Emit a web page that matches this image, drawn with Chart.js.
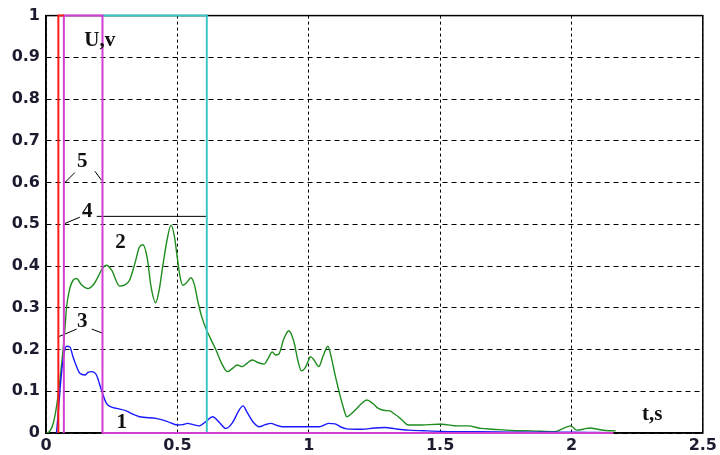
<!DOCTYPE html>
<html>
<head>
<meta charset="utf-8">
<script src="https://cdn.jsdelivr.net/npm/chart.js@4/dist/chart.umd.min.js"></script>
<style>
  html, body { margin: 0; padding: 0; background: #fff; }
  #wrap { width: 720px; height: 455px; }
</style>
</head>
<body>
<div id="wrap"><canvas id="myChart"></canvas></div>
<script>
// Curve 2 (green), U over t
const greenT = [0, 0.003, 0.015, 0.028, 0.04, 0.053, 0.066, 0.072, 0.078, 0.09, 0.103, 0.116, 0.135, 0.16, 0.18, 0.198, 0.215, 0.23, 0.25, 0.28, 0.3, 0.318, 0.34, 0.355, 0.369, 0.385, 0.4, 0.417, 0.43, 0.444, 0.46, 0.476, 0.489, 0.501, 0.51, 0.52, 0.535, 0.552, 0.565, 0.577, 0.592, 0.609, 0.627, 0.647, 0.67, 0.69, 0.71, 0.728, 0.747, 0.765, 0.785, 0.81, 0.83, 0.845, 0.861, 0.874, 0.886, 0.905, 0.924, 0.935, 0.945, 0.96, 0.972, 0.985, 1.0, 1.006, 1.02, 1.038, 1.055, 1.073, 1.088, 1.1, 1.114, 1.13, 1.145, 1.16, 1.177, 1.2, 1.221, 1.245, 1.265, 1.29, 1.309, 1.325, 1.341, 1.36, 1.379, 1.43, 1.492, 1.505, 1.568, 1.606, 1.655, 1.7, 1.77, 1.85, 1.934, 1.965, 1.997, 2.02, 2.045, 2.07, 2.1, 2.13, 2.168];
const greenU = [0, 0, 0.005, 0.024, 0.063, 0.127, 0.206, 0.25, 0.3, 0.345, 0.366, 0.37, 0.355, 0.346, 0.355, 0.374, 0.395, 0.402, 0.39, 0.352, 0.355, 0.366, 0.41, 0.445, 0.451, 0.42, 0.35, 0.312, 0.34, 0.398, 0.46, 0.498, 0.47, 0.414, 0.375, 0.354, 0.36, 0.372, 0.355, 0.318, 0.28, 0.25, 0.225, 0.199, 0.165, 0.147, 0.155, 0.163, 0.159, 0.167, 0.175, 0.168, 0.165, 0.178, 0.194, 0.187, 0.189, 0.225, 0.245, 0.235, 0.215, 0.17, 0.149, 0.155, 0.175, 0.183, 0.175, 0.159, 0.185, 0.208, 0.175, 0.14, 0.103, 0.065, 0.039, 0.045, 0.055, 0.07, 0.079, 0.07, 0.059, 0.054, 0.053, 0.046, 0.039, 0.028, 0.019, 0.019, 0.021, 0.021, 0.017, 0.017, 0.011, 0.009, 0.006, 0.005, 0.003, 0.01, 0.017, 0.007, 0.009, 0.012, 0.009, 0.006, 0.005];

// Curve 1 (blue)
const blueT = [0.04, 0.048, 0.056, 0.066, 0.078, 0.091, 0.103, 0.116, 0.129, 0.148, 0.16, 0.173, 0.184, 0.192, 0.211, 0.23, 0.25, 0.268, 0.306, 0.33, 0.356, 0.419, 0.46, 0.501, 0.52, 0.539, 0.56, 0.583, 0.61, 0.634, 0.66, 0.684, 0.71, 0.735, 0.75, 0.765, 0.79, 0.811, 0.835, 0.855, 0.88, 0.899, 0.95, 1.0, 1.04, 1.076, 1.1, 1.12, 1.145, 1.202, 1.25, 1.29, 1.33, 1.379, 1.45, 1.568, 1.65, 1.8, 2.0, 2.15];
const blueU = [0, 0.06, 0.123, 0.18, 0.208, 0.206, 0.182, 0.16, 0.143, 0.139, 0.145, 0.147, 0.145, 0.139, 0.103, 0.071, 0.062, 0.059, 0.053, 0.045, 0.039, 0.035, 0.028, 0.019, 0.02, 0.023, 0.02, 0.017, 0.028, 0.039, 0.025, 0.011, 0.025, 0.055, 0.065, 0.05, 0.025, 0.015, 0.02, 0.023, 0.018, 0.015, 0.015, 0.015, 0.015, 0.023, 0.022, 0.015, 0.01, 0.009, 0.012, 0.013, 0.01, 0.007, 0.005, 0.003, 0.003, 0.002, 0.002, 0.001];

// Time windows (vertical marker lines)
const redT = [0.047, 0.047, 0.068];
const redU = [0, 1, 1];
const magentaT = [0.068, 0.068, 0.215, 0.215, 2.16];
const magentaU = [0, 1, 1, 0, 0];
const cyanT = [0.215, 0.612, 0.612];
const cyanU = [1, 1, 0];

// Leader lines for the numbered labels
const leaderLines = [
  { t: [0.072, 0.110], u: [0.600, 0.624] },
  { t: [0.186, 0.212], u: [0.627, 0.605] },
  { t: [0.072, 0.129], u: [0.502, 0.517] },
  { t: [0.193, 0.614], u: [0.519, 0.519] },
  { t: [0.045, 0.117], u: [0.230, 0.249] },
  { t: [0.174, 0.216], u: [0.249, 0.239] },
];

// Text labels placed at data coordinates
const labelText = ["U,v", "5", "4", "3", "2", "1", "t,s"];
const labelT = [0.2045, 0.138, 0.157, 0.138, 0.284, 0.288, 2.307];
const labelU = [0.94, 0.65, 0.531, 0.267, 0.456, 0.024, 0.045];

const xTicks = [0, 0.5, 1, 1.5, 2, 2.5];
const yTicks = [0, 0.1, 0.2, 0.3, 0.4, 0.5, 0.6, 0.7, 0.8, 0.9, 1];

function toPoints(ts, us) {
  return ts.map((t, i) => ({ x: t, y: us[i] }));
}

const datasets = [
  { data: toPoints(redT, redU), borderColor: "#ff1a1a", borderWidth: 2, clip: 4 },
  { data: toPoints(magentaT, magentaU), borderColor: "#d23ed2", borderWidth: 2, clip: 4 },
  { data: toPoints(cyanT, cyanU), borderColor: "#3cc8c8", borderWidth: 2, clip: 4 },
  { data: toPoints(blueT, blueU), borderColor: "#1a1aff", borderWidth: 1.4, cubicInterpolationMode: "monotone" },
  { data: toPoints(greenT, greenU), borderColor: "#1e8c1e", borderWidth: 1.4, cubicInterpolationMode: "monotone" },
];
leaderLines.forEach((l) => {
  datasets.push({ data: toPoints(l.t, l.u), borderColor: "#000", borderWidth: 1 });
});

// Frame around the plot area (drawn below the curves)
const framePlugin = {
  id: "frame",
  beforeDatasetsDraw(chart) {
    const { ctx, chartArea: a } = chart;
    ctx.save();
    ctx.strokeStyle = "#000";
    ctx.lineWidth = 1.5;
    ctx.strokeRect(a.left, a.top, a.right - a.left, a.bottom - a.top);
    ctx.restore();
  },
};

// Curve numbers and axis names
const labelPlugin = {
  id: "labels",
  afterDatasetsDraw(chart) {
    const { ctx } = chart;
    const xs = chart.scales.x;
    const ys = chart.scales.y;
    ctx.save();
    ctx.fillStyle = "#111";
    ctx.font = "bold 21px 'Liberation Serif'";
    ctx.textAlign = "center";
    ctx.textBaseline = "middle";
    labelText.forEach((txt, i) => {
      ctx.fillText(txt, xs.getPixelForValue(labelT[i]), ys.getPixelForValue(labelU[i]));
    });
    ctx.restore();
  },
};

const ctx = document.getElementById("myChart").getContext("2d");
new Chart(ctx, {
  type: "line",
  data: { datasets: datasets },
  options: {
    responsive: true,
    maintainAspectRatio: false,
    animation: false,
    layout: { padding: { top: 15, right: 14, left: 0, bottom: 0 } },
    elements: { point: { radius: 0 }, line: { tension: 0 } },
    plugins: { legend: { display: false }, tooltip: { enabled: false } },
    scales: {
      x: {
        type: "linear",
        min: 0,
        max: 2.5,
        afterFit: (s) => { s.height = 22; },
        afterBuildTicks: (s) => { s.ticks = xTicks.map((v) => ({ value: v })); },
        ticks: {
          color: "#1c1c30",
          font: { family: "DejaVu Sans", size: 16, weight: "bold" },
          padding: 3,
          maxRotation: 0,
          callback: (v) => String(v),
        },
        grid: { color: "#000", lineWidth: 1, drawTicks: false },
        border: { color: "#000", width: 1.5, dash: [3, 3] },
      },
      y: {
        type: "linear",
        min: 0,
        max: 1,
        afterFit: (s) => { s.width = 46; },
        afterBuildTicks: (s) => { s.ticks = yTicks.map((v) => ({ value: v })); },
        ticks: {
          color: "#1c1c30",
          font: { family: "DejaVu Sans", size: 16, weight: "bold" },
          padding: 6,
          callback: (v) => String(v),
        },
        grid: { color: "#000", lineWidth: 1, drawTicks: false },
        border: { color: "#000", width: 1.5, dash: [5, 4] },
      },
    },
  },
  plugins: [framePlugin, labelPlugin],
});
</script>
</body>
</html>
